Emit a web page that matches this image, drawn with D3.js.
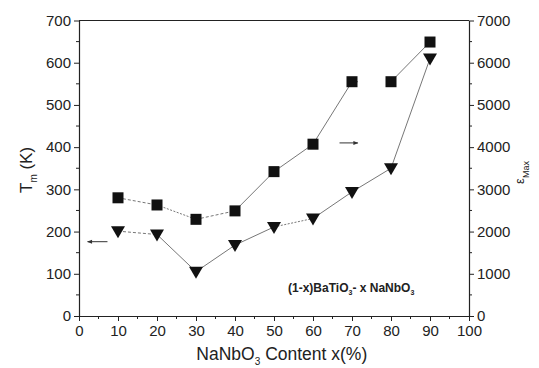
<!DOCTYPE html>
<html>
<head>
<meta charset="utf-8">
<script src="https://cdn.jsdelivr.net/npm/d3@7"></script>
<style>
  body { margin: 0; background: #fff; }
  text { font-family: "Liberation Sans", Arial, sans-serif; fill: #222; }
</style>
</head>
<body>
<div id="chart"></div>
<script>
// data
let content = [10, 20, 30, 40, 50, 60, 70, 80, 90];
let epsMax = [2800, 2630, 2290, 2490, 3420, 4070, 5550, 5550, 6490];
let tm = [201, 193, 105, 168, 211, 231, 294, 350, 610];
let xTicks = [0, 10, 20, 30, 40, 50, 60, 70, 80, 90, 100];
let leftTicks = [0, 100, 200, 300, 400, 500, 600, 700];
let rightTicks = [0, 1000, 2000, 3000, 4000, 5000, 6000, 7000];

// dash pattern of each connecting segment (scan shows a mix)
let epsDash = ["3,2", "2,1.5", "3,2", null, null, null, "6,30", null];
let tmDash = ["3,2", null, null, null, "2,1.5", null, null, null];

let width = 539, height = 368;
let margin = {left: 79, right: 70, top: 20.5, bottom: 52};

let svg = d3.select("#chart").append("svg")
  .attr("width", width)
  .attr("height", height);

let x = d3.scaleLinear().domain([0, 100]).range([margin.left, width - margin.right]);
let yL = d3.scaleLinear().domain([0, 700]).range([height - margin.bottom, margin.top]);
let yR = d3.scaleLinear().domain([0, 7000]).range([height - margin.bottom, margin.top]);

// frame top line
svg.append("line")
  .attr("x1", x(0)).attr("x2", x(100))
  .attr("y1", yL(700)).attr("y2", yL(700))
  .attr("stroke", "#222").attr("stroke-width", 1.2);

function styleAxis(g, minorVals, scale, dir) {
  g.selectAll(".domain").attr("stroke", "#222").attr("stroke-width", 1.2);
  g.selectAll(".tick line").attr("stroke", "#222");
  g.selectAll(".tick text").style("font-size", "15px").attr("fill", "#222");
  g.selectAll(".minor").data(minorVals).enter().append("line")
    .attr("stroke", "#222")
    .each(function(d) {
      let s = d3.select(this);
      if (dir == "bottom") s.attr("x1", scale(d)).attr("x2", scale(d)).attr("y1", 0).attr("y2", 3);
      if (dir == "left") s.attr("y1", scale(d)).attr("y2", scale(d)).attr("x1", 0).attr("x2", -3);
      if (dir == "right") s.attr("y1", scale(d)).attr("y2", scale(d)).attr("x1", 0).attr("x2", 3);
    });
}

let gx = svg.append("g")
  .attr("transform", `translate(0,${yL(0)})`)
  .call(d3.axisBottom(x).tickValues(xTicks).tickSize(5).tickPadding(4).tickSizeOuter(0));
styleAxis(gx, d3.range(5, 100, 10), x, "bottom");

let gl = svg.append("g")
  .attr("transform", `translate(${x(0)},0)`)
  .call(d3.axisLeft(yL).tickValues(leftTicks).tickSize(5).tickPadding(3).tickSizeOuter(0));
styleAxis(gl, d3.range(50, 700, 100), yL, "left");

let gr = svg.append("g")
  .attr("transform", `translate(${x(100)},0)`)
  .call(d3.axisRight(yR).tickValues(rightTicks).tickFormat(d3.format("d"))
    .tickSize(5).tickPadding(3).tickSizeOuter(0));
styleAxis(gr, d3.range(500, 7000, 1000), yR, "right");

// axis titles
let xt = svg.append("text")
  .attr("x", x(52)).attr("y", 360)
  .attr("text-anchor", "middle")
  .style("font-size", "17.5px");
xt.append("tspan").text("NaNbO");
xt.append("tspan").text("3").attr("dy", 5).style("font-size", "10px");
xt.append("tspan").text(" Content x(%)").attr("dy", -5);

let lt = svg.append("text")
  .attr("transform", `translate(32,${yL(346)}) rotate(-90)`)
  .attr("text-anchor", "middle")
  .style("font-size", "17px");
lt.append("tspan").text("T");
lt.append("tspan").text("m").attr("dy", 5).style("font-size", "10px");
lt.append("tspan").text(" (K)").attr("dy", -5);

let rt = svg.append("text")
  .attr("transform", `translate(524,${yR(3400)}) rotate(-90)`)
  .attr("text-anchor", "middle")
  .style("font-size", "13px");
rt.append("tspan").text("ε");
rt.append("tspan").text("Max").attr("dy", 5).style("font-size", "9px");

// connecting segments
function drawSegments(vals, scale, dashes) {
  svg.append("g").selectAll("line")
    .data(d3.pairs(d3.zip(content, vals)).map((p, i) => ({a: p[0], b: p[1], dash: dashes[i]})))
    .enter().append("line")
    .attr("x1", d => x(d.a[0])).attr("y1", d => scale(d.a[1]))
    .attr("x2", d => x(d.b[0])).attr("y2", d => scale(d.b[1]))
    .attr("stroke", "#777")
    .attr("stroke-width", 1)
    .attr("stroke-dasharray", d => d.dash);
}
drawSegments(epsMax, yR, epsDash);
drawSegments(tm, yL, tmDash);

// square markers (eps max)
svg.append("g").selectAll("rect")
  .data(d3.zip(content, epsMax))
  .enter().append("rect")
  .attr("x", d => x(d[0]) - 5.5).attr("y", d => yR(d[1]) - 5.5)
  .attr("width", 11).attr("height", 11)
  .attr("fill", "#111");

// down triangles (Tm)
svg.append("g").selectAll("path")
  .data(d3.zip(content, tm))
  .enter().append("path")
  .attr("transform", d => `translate(${x(d[0])},${yL(d[1])})`)
  .attr("d", "M-7,-5L7,-5L0,7Z")
  .attr("fill", "#111");

// arrows pointing to the matching axis
let arrows = [
  {x0: 7.3, x1: 2.2, v: 176, scale: yL},
  {x0: 66.8, x1: 71.5, v: 4100, scale: yR}
];
svg.append("defs").append("marker")
  .attr("id", "head").attr("viewBox", "0 0 10 10")
  .attr("refX", 9).attr("refY", 5)
  .attr("markerWidth", 6).attr("markerHeight", 5)
  .attr("orient", "auto")
  .append("path").attr("d", "M0,1L10,5L0,9Z").attr("fill", "#333");
svg.append("g").selectAll("line")
  .data(arrows)
  .enter().append("line")
  .attr("x1", d => x(d.x0)).attr("x2", d => x(d.x1))
  .attr("y1", d => d.scale(d.v)).attr("y2", d => d.scale(d.v))
  .attr("stroke", "#333").attr("stroke-width", 1)
  .attr("marker-end", "url(#head)");

// composition label
let ct = svg.append("text")
  .attr("x", x(53.6)).attr("y", yL(57))
  .style("font-size", "12px").style("font-weight", "bold");
ct.append("tspan").text("(1-x)BaTiO");
ct.append("tspan").text("3").attr("dy", 3).style("font-size", "7px");
ct.append("tspan").text("- x NaNbO").attr("dy", -3);
ct.append("tspan").text("3").attr("dy", 3).style("font-size", "7px");
</script>
</body>
</html>
